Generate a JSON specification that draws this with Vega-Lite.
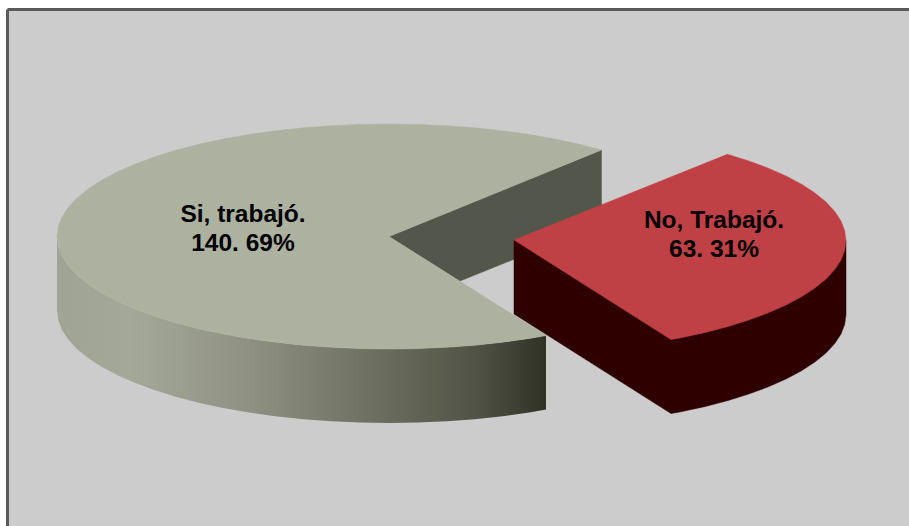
{"$schema":"https://vega.github.io/schema/vega-lite/v6.json","width":909,"height":526,"padding":0,"autosize":{"type":"none"},"background":"#ffffff","config":{"view":{"stroke":null}},
"datasets":{
"frame":[{"x":7.5,"y":9.5},{"x":925,"y":9.5},{"x":925,"y":540},{"x":7.5,"y":540},{"x":7.5,"y":9.5}],
"wall":[{"x":389,"y":236.5},{"x":601.5,"y":150},{"x":601.5,"y":224},{"x":460,"y":281},{"x":389,"y":236.5}],
"greyTop":[{"x":601.5,"y":150},{"x":579.4,"y":144.3},{"x":555,"y":139.1},{"x":529.3,"y":134.5},{"x":502.5,"y":130.8},{"x":474.9,"y":127.8},{"x":446.6,"y":125.7},{"x":417.9,"y":124.4},{"x":389,"y":124},{"x":360.1,"y":124.4},{"x":331.4,"y":125.7},{"x":303.1,"y":127.8},{"x":275.5,"y":130.8},{"x":248.7,"y":134.5},{"x":223,"y":139.1},{"x":198.6,"y":144.3},{"x":175.6,"y":150.3},{"x":154.2,"y":157},{"x":134.7,"y":164.2},{"x":117,"y":172},{"x":101.5,"y":180.2},{"x":88.1,"y":189},{"x":77,"y":198},{"x":68.3,"y":207.4},{"x":62,"y":217},{"x":58.3,"y":226.7},{"x":57,"y":236.5},{"x":58.3,"y":246.3},{"x":62,"y":256},{"x":68.3,"y":265.6},{"x":77,"y":275},{"x":88.1,"y":284},{"x":101.5,"y":292.8},{"x":117,"y":301},{"x":134.7,"y":308.8},{"x":154.2,"y":316},{"x":175.6,"y":322.7},{"x":198.6,"y":328.7},{"x":223,"y":333.9},{"x":248.7,"y":338.5},{"x":275.5,"y":342.2},{"x":303.1,"y":345.2},{"x":331.4,"y":347.3},{"x":360.1,"y":348.6},{"x":389,"y":349},{"x":417.9,"y":348.6},{"x":446.6,"y":347.3},{"x":474.9,"y":345.2},{"x":502.5,"y":342.2},{"x":529.3,"y":338.5},{"x":546,"y":335.6},{"x":389,"y":236.5},{"x":601.5,"y":150}],
"greySide":[{"x":57,"y":236.5},{"x":58.3,"y":246.3},{"x":62,"y":256},{"x":68.3,"y":265.6},{"x":77,"y":275},{"x":88.1,"y":284},{"x":101.5,"y":292.8},{"x":117,"y":301},{"x":134.7,"y":308.8},{"x":154.2,"y":316},{"x":175.6,"y":322.7},{"x":198.6,"y":328.7},{"x":223,"y":333.9},{"x":248.7,"y":338.5},{"x":275.5,"y":342.2},{"x":303.1,"y":345.2},{"x":331.4,"y":347.3},{"x":360.1,"y":348.6},{"x":389,"y":349},{"x":417.9,"y":348.6},{"x":446.6,"y":347.3},{"x":474.9,"y":345.2},{"x":502.5,"y":342.2},{"x":529.3,"y":338.5},{"x":546,"y":335.6},{"x":546,"y":409.6},{"x":529.3,"y":412.5},{"x":502.5,"y":416.2},{"x":474.9,"y":419.2},{"x":446.6,"y":421.3},{"x":417.9,"y":422.6},{"x":389,"y":423},{"x":360.1,"y":422.6},{"x":331.4,"y":421.3},{"x":303.1,"y":419.2},{"x":275.5,"y":416.2},{"x":248.7,"y":412.5},{"x":223,"y":407.9},{"x":198.6,"y":402.7},{"x":175.6,"y":396.7},{"x":154.2,"y":390},{"x":134.7,"y":382.8},{"x":117,"y":375},{"x":101.5,"y":366.8},{"x":88.1,"y":358},{"x":77,"y":349},{"x":68.3,"y":339.6},{"x":62,"y":330},{"x":58.3,"y":320.3},{"x":57,"y":310.5},{"x":57,"y":236.5}],
"redSide":[{"x":514,"y":240},{"x":514,"y":314},{"x":671,"y":413.6},{"x":680,"y":411.9},{"x":704.4,"y":406.7},{"x":727.4,"y":400.7},{"x":748.8,"y":394},{"x":768.3,"y":386.8},{"x":786,"y":379},{"x":801.5,"y":370.8},{"x":814.9,"y":362},{"x":826,"y":353},{"x":834.7,"y":343.6},{"x":841,"y":334},{"x":844.7,"y":324.3},{"x":846,"y":314.5},{"x":846,"y":240.5},{"x":514,"y":240}],
"redTop":[{"x":514,"y":240},{"x":727.4,"y":154.3},{"x":748.8,"y":161},{"x":768.3,"y":168.2},{"x":786,"y":176},{"x":801.5,"y":184.2},{"x":814.9,"y":193},{"x":826,"y":202},{"x":834.7,"y":211.4},{"x":841,"y":221},{"x":844.7,"y":230.7},{"x":846,"y":240.5},{"x":844.7,"y":250.3},{"x":841,"y":260},{"x":834.7,"y":269.6},{"x":826,"y":279},{"x":814.9,"y":288},{"x":801.5,"y":296.8},{"x":786,"y":305},{"x":768.3,"y":312.8},{"x":748.8,"y":320},{"x":727.4,"y":326.7},{"x":704.4,"y":332.7},{"x":680,"y":337.9},{"x":671,"y":339.6},{"x":514,"y":240}],
"labels":[{"label":"Si, trabajó.","x":243,"y":222},{"label":"140. 69%","x":243,"y":251},{"label":"No, Trabajó.","x":714,"y":228},{"label":"63. 31%","x":714,"y":257}]
},
"encoding":{
"x":{"field":"x","type":"quantitative","scale":{"domain":[0,909],"nice":false,"zero":false},"axis":null},
"y":{"field":"y","type":"quantitative","scale":{"domain":[526,0],"nice":false,"zero":false},"axis":null}
},
"layer":[
{"data":{"name":"frame"},"transform":[{"window":[{"op":"row_number","as":"i"}]}],"mark":{"type":"line","fill":"#cccccc","stroke":"#5a5a5a","strokeWidth":3,"clip":false},"encoding":{"order":{"field":"i","type":"quantitative"}}},
{"data":{"name":"wall"},"transform":[{"window":[{"op":"row_number","as":"i"}]}],"mark":{"type":"line","fill":"#53564a","stroke":"#53564a","strokeWidth":0.5},"encoding":{"order":{"field":"i","type":"quantitative"}}},
{"data":{"name":"greySide"},"transform":[{"window":[{"op":"row_number","as":"i"}]}],"mark":{"type":"line","strokeWidth":0,"fill":{"gradient":"linear","x1":0,"y1":0,"x2":1,"y2":0,"stops":[{"offset":0,"color":"#a0a494"},{"offset":0.15,"color":"#a4a899"},{"offset":0.39,"color":"#8f9282"},{"offset":0.70,"color":"#66695a"},{"offset":0.86,"color":"#4f5244"},{"offset":1,"color":"#303226"}]}},"encoding":{"order":{"field":"i","type":"quantitative"}}},
{"data":{"name":"greyTop"},"transform":[{"window":[{"op":"row_number","as":"i"}]}],"mark":{"type":"line","fill":"#adb2a0","stroke":"#adb2a0","strokeWidth":0.5},"encoding":{"order":{"field":"i","type":"quantitative"}}},
{"data":{"name":"redSide"},"transform":[{"window":[{"op":"row_number","as":"i"}]}],"mark":{"type":"line","fill":"#2e0000","stroke":"#2e0000","strokeWidth":0.5},"encoding":{"order":{"field":"i","type":"quantitative"}}},
{"data":{"name":"redTop"},"transform":[{"window":[{"op":"row_number","as":"i"}]}],"mark":{"type":"line","fill":"#c04145","stroke":"#c04145","strokeWidth":0.5},"encoding":{"order":{"field":"i","type":"quantitative"}}},
{"data":{"name":"labels"},"mark":{"type":"text","font":"Liberation Sans","fontWeight":"bold","fontSize":24.5,"align":"center","baseline":"alphabetic","fill":"#000000"},"encoding":{"text":{"field":"label","type":"nominal"}}}
]}
